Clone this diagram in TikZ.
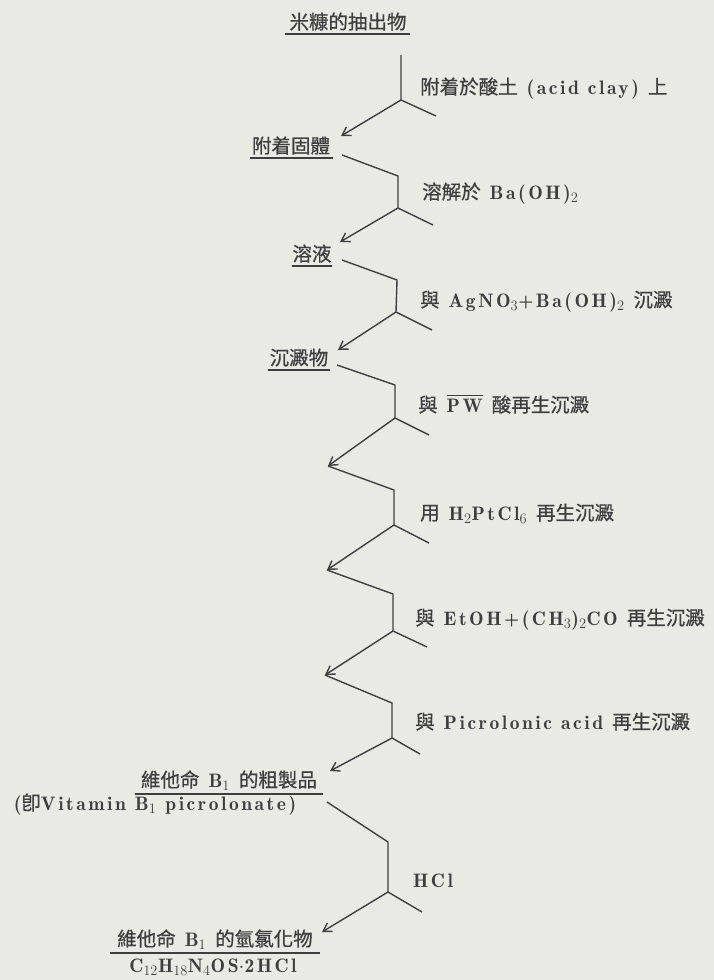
\documentclass[tikz,border=0pt]{standalone}
\usepackage{fontspec}
\setmainfont{lmromandemi10-regular.otf}[LetterSpace=13]
\newfontfamily\cjk{Noto Sans CJK TC}[FakeBold=0.7]
\usetikzlibrary{arrows.meta}
\definecolor{bgc}{RGB}{234,234,229}
\definecolor{ink}{RGB}{62,62,62}
\newcommand{\zh}[1]{{\cjk #1}}
\newcommand{\ovl}[1]{\leavevmode\vbox{\hrule height 1.3pt \kern 2.5pt \hbox{#1}}}
\tikzset{
 lbl/.style={anchor=base west, inner sep=0pt, text=ink, font=\fontsize{19.5}{22}\selectfont},
 item/.style={anchor=base, inner sep=0pt, text=ink, font=\fontsize{19.5}{22}\selectfont},
 ln/.style={draw=ink, line width=1.4pt, line join=round},
 arr/.style={ln, -{Straight Barb[length=8pt,width=10pt,line width=1.4pt]}},
 ul/.style={draw=ink, line width=1.8pt},
 ulthick/.style={draw=ink, line width=2.8pt}
}
\begin{document}
\begin{tikzpicture}[x=1pt,y=-1pt]
\fill[bgc] (0,0) rectangle (714,980);
\useasboundingbox (0,0) rectangle (714,980);
% main nodes
\node[item] (n0) at (348,29) {\zh{米糠的抽出物}};
\node[item] (n1) at (291,153) {\zh{附着固體}};
\node[item] (n2) at (312,261) {\zh{溶液}};
\node[item] (n3) at (299,365) {\zh{沉澱物}};
\node[item] (n7) at (229,787) {\zh{維他命} B$_1$ \zh{的粗製品}};
\node[item] (n7b) at (155,810) {(\zh{卽}Vitamin B$_1$ picrolonate)};
\node[item] (n8) at (215,946) {\zh{維他命} B$_1$ \zh{的氫氯化物}};
\node[item] (n8b) at (213,972) {C$_{12}$H$_{18}$N$_4$OS$\cdot$2HCl};
% underlines
\draw[ulthick] (285,34) -- (410,34);
\draw[ul] (250,158) -- (333,158);
\draw[ul] (292,266) -- (332,266);
\draw[ul] (268,370) -- (330,370);
\draw[ul] (135,794) -- (323,794);
\draw[ul] (110,953) -- (320,953);
% labels
\node[lbl] (l1) at (420,94) {\zh{附着於酸土} (acid clay) \zh{上}};
\node[lbl] (l2) at (422,199) {\zh{溶解於} Ba(OH)$_2$};
\node[lbl] (l3) at (420,307) {\zh{與} AgNO$_3$+Ba(OH)$_2$ \zh{沉澱}};
\node[lbl] (l4) at (418,412) {\zh{與} \ovl{PW} \zh{酸再生沉澱}};
\node[lbl] (l5) at (420,520) {\zh{用} H$_2$PtCl$_6$ \zh{再生沉澱}};
\node[lbl] (l6) at (415,625) {\zh{與} EtOH+(CH$_3$)$_2$CO \zh{再生沉澱}};
\node[lbl] (l7) at (415,729) {\zh{與} Picrolonic acid \zh{再生沉澱}};
\node[lbl] (l8) at (413,887) {HCl};
% coordinates
\coordinate (s1) at (401,55);  \coordinate (j1) at (401,100); \coordinate (b1) at (436,116); \coordinate (t1) at (341,136);
\coordinate (a2) at (342,155); \coordinate (s2) at (398,176); \coordinate (j2) at (398,208); \coordinate (b2) at (433,225); \coordinate (t2) at (340,242);
\coordinate (a3) at (342,260); \coordinate (s3) at (397,280); \coordinate (j3) at (396,312); \coordinate (b3) at (432,330); \coordinate (t3) at (338,350);
\coordinate (a4) at (337,365); \coordinate (s4) at (395,385); \coordinate (j4) at (395,418); \coordinate (b4) at (429,435); \coordinate (t4) at (328,466);
\coordinate (s5) at (394,490); \coordinate (j5) at (394,525); \coordinate (b5) at (429,543); \coordinate (t5) at (327,570);
\coordinate (s6) at (393,594); \coordinate (j6) at (393,631); \coordinate (b6) at (427,647); \coordinate (t6) at (325,675);
\coordinate (s7) at (392,703); \coordinate (j7) at (392,738); \coordinate (b7) at (420,754); \coordinate (t7) at (330,771);
\coordinate (a8) at (327,802); \coordinate (s8) at (388,842); \coordinate (j8) at (388,892); \coordinate (b8) at (422,912); \coordinate (t8) at (322,932);
% connectors
\draw[ln] (s1) -- (j1) -- (b1); \draw[arr] (j1) -- (t1);
\draw[ln] (a2) -- (s2) -- (j2) -- (b2); \draw[arr] (j2) -- (t2);
\draw[ln] (a3) -- (s3) -- (j3) -- (b3); \draw[arr] (j3) -- (t3);
\draw[ln] (a4) -- (s4) -- (j4) -- (b4); \draw[arr] (j4) -- (t4);
\draw[ln] (t4) -- (s5) -- (j5) -- (b5); \draw[arr] (j5) -- (t5);
\draw[ln] (t5) -- (s6) -- (j6) -- (b6); \draw[arr] (j6) -- (t6);
\draw[ln] (t6) -- (s7) -- (j7) -- (b7); \draw[arr] (j7) -- (t7);
\draw[ln] (a8) -- (s8) -- (j8) -- (b8); \draw[arr] (j8) -- (t8);
\end{tikzpicture}
\end{document}
